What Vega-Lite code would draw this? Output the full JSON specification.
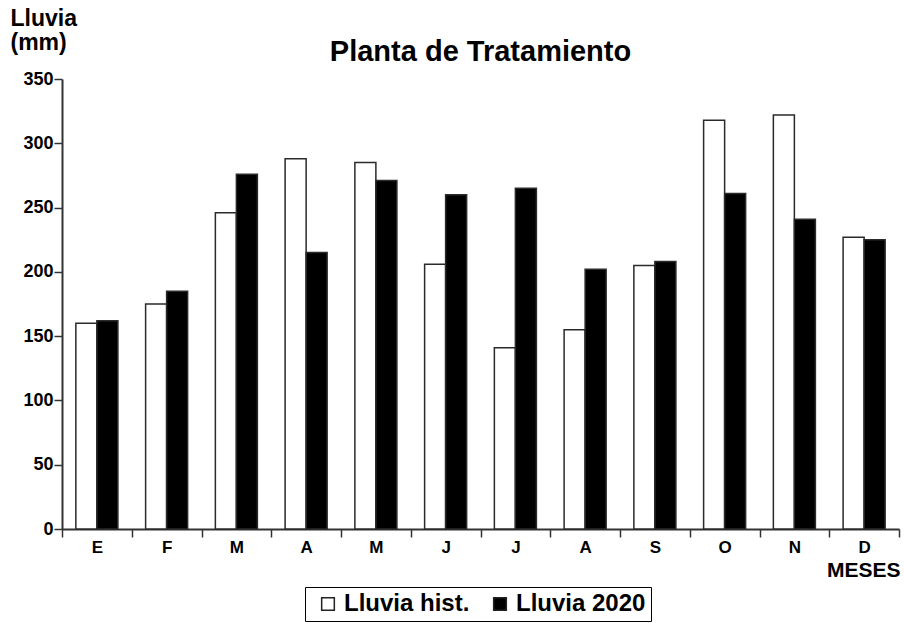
{
  "$schema": "https://vega.github.io/schema/vega-lite/v6.json",
  "width": 837,
  "height": 450,
  "autosize": "none",
  "padding": {"left": 62, "top": 79, "right": 5, "bottom": 94},
  "background": "white",
  "title": {
    "text": "Planta de Tratamiento",
    "font": "Liberation Sans",
    "fontSize": 29,
    "fontWeight": "bold",
    "color": "black",
    "anchor": "middle",
    "offset": -60
  },
  "data": {
    "values": [
      {"mes": "Ene", "serie": "Lluvia hist.", "lluvia": 160},
      {"mes": "Ene", "serie": "Lluvia 2020", "lluvia": 162},
      {"mes": "Feb", "serie": "Lluvia hist.", "lluvia": 175},
      {"mes": "Feb", "serie": "Lluvia 2020", "lluvia": 185},
      {"mes": "Mar", "serie": "Lluvia hist.", "lluvia": 246},
      {"mes": "Mar", "serie": "Lluvia 2020", "lluvia": 276},
      {"mes": "Abr", "serie": "Lluvia hist.", "lluvia": 288},
      {"mes": "Abr", "serie": "Lluvia 2020", "lluvia": 215},
      {"mes": "May", "serie": "Lluvia hist.", "lluvia": 285},
      {"mes": "May", "serie": "Lluvia 2020", "lluvia": 271},
      {"mes": "Jun", "serie": "Lluvia hist.", "lluvia": 206},
      {"mes": "Jun", "serie": "Lluvia 2020", "lluvia": 260},
      {"mes": "Jul", "serie": "Lluvia hist.", "lluvia": 141},
      {"mes": "Jul", "serie": "Lluvia 2020", "lluvia": 265},
      {"mes": "Ago", "serie": "Lluvia hist.", "lluvia": 155},
      {"mes": "Ago", "serie": "Lluvia 2020", "lluvia": 202},
      {"mes": "Sep", "serie": "Lluvia hist.", "lluvia": 205},
      {"mes": "Sep", "serie": "Lluvia 2020", "lluvia": 208},
      {"mes": "Oct", "serie": "Lluvia hist.", "lluvia": 318},
      {"mes": "Oct", "serie": "Lluvia 2020", "lluvia": 261},
      {"mes": "Nov", "serie": "Lluvia hist.", "lluvia": 322},
      {"mes": "Nov", "serie": "Lluvia 2020", "lluvia": 241},
      {"mes": "Dic", "serie": "Lluvia hist.", "lluvia": 227},
      {"mes": "Dic", "serie": "Lluvia 2020", "lluvia": 225}
    ]
  },
  "mark": {"type": "bar", "stroke": "#2a2a2a", "strokeWidth": 1.5},
  "encoding": {
    "x": {
      "field": "mes",
      "type": "nominal",
      "sort": ["Ene","Feb","Mar","Abr","May","Jun","Jul","Ago","Sep","Oct","Nov","Dic"],
      "scale": {"paddingInner": 0, "paddingOuter": 0},
      "axis": {
        "title": "MESES",
        "titleFont": "Liberation Sans",
        "titleFontSize": 21,
        "titleFontWeight": "bold",
        "titleColor": "black",
        "titleAnchor": "end",
        "titleAlign": "right",
        "titleBaseline": "alphabetic",
        "titleX": 838,
        "titleY": 47,
        "labelExpr": "slice(datum.label, 0, 1)",
        "labelAngle": 0,
        "labelFont": "Liberation Sans",
        "labelFontSize": 17,
        "labelFontWeight": "bold",
        "labelColor": "black",
        "labelPadding": 2,
        "tickBand": "extent",
        "tickSize": 8,
        "tickWidth": 1.5,
        "tickColor": "#333",
        "domainColor": "#333",
        "domainWidth": 2
      }
    },
    "xOffset": {
      "field": "serie",
      "type": "nominal",
      "sort": ["Lluvia hist.", "Lluvia 2020"],
      "scale": {"paddingInner": 0, "paddingOuter": 0.66}
    },
    "y": {
      "field": "lluvia",
      "type": "quantitative",
      "scale": {"domain": [0, 350], "nice": false},
      "axis": {
        "values": [0, 50, 100, 150, 200, 250, 300, 350],
        "grid": false,
        "title": ["Lluvia", "(mm)"],
        "titleAngle": 0,
        "titleAlign": "left",
        "titleBaseline": "top",
        "titleX": -52,
        "titleY": -72,
        "titleLineHeight": 24,
        "titleFont": "Liberation Sans",
        "titleFontSize": 23,
        "titleFontWeight": "bold",
        "titleColor": "black",
        "labelFont": "Liberation Sans",
        "labelFontSize": 18,
        "labelFontWeight": "bold",
        "labelColor": "black",
        "labelPadding": 1,
        "tickSize": 8,
        "tickWidth": 1.5,
        "tickColor": "#333",
        "domainColor": "#333",
        "domainWidth": 2
      }
    },
    "color": {
      "field": "serie",
      "type": "nominal",
      "scale": {"domain": ["Lluvia hist.", "Lluvia 2020"], "range": ["white", "black"]},
      "legend": {
        "title": null,
        "orient": "none",
        "legendX": 243,
        "legendY": 508,
        "direction": "horizontal",
        "strokeColor": "black",
        "padding": 5,
        "symbolType": "square",
        "symbolSize": 160,
        "symbolOffset": 6,
        "symbolStrokeColor": "#222",
        "symbolStrokeWidth": 1.5,
        "symbolOpacity": 1,
        "labelFont": "Liberation Sans",
        "labelFontSize": 24,
        "labelFontWeight": "bold",
        "labelColor": "black",
        "labelOffset": 4,
        "columnPadding": 12,
        "labelLimit": 300
      }
    }
  },
  "config": {"view": {"stroke": null}}
}
